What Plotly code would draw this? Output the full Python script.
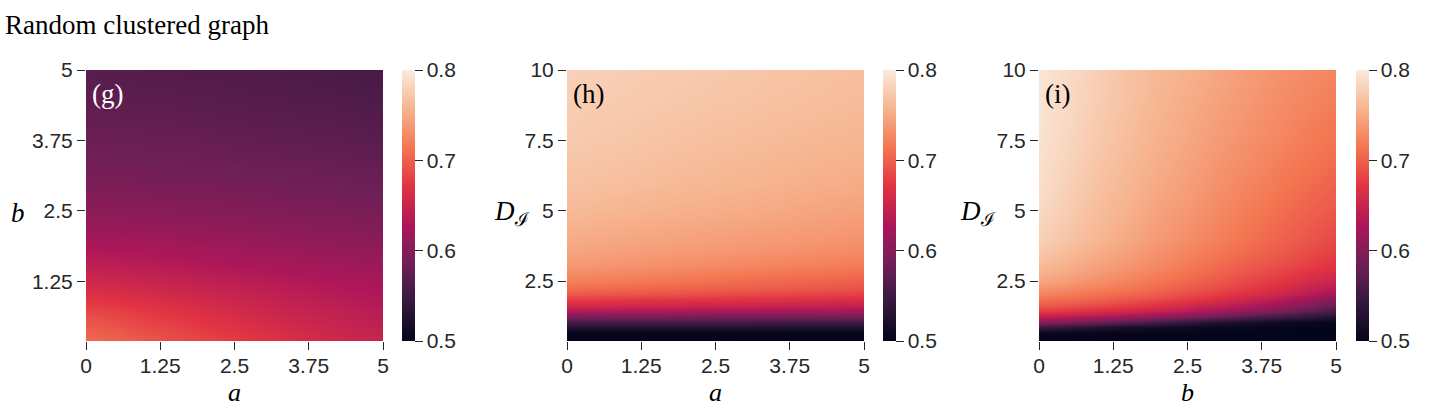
import plotly.graph_objects as go

W, H = 1450, 410

# ---------------- data ----------------
# panel (g): x = a, y = b
g_a = [0, 0.5, 1, 1.5, 2, 2.5, 3, 3.5, 4, 4.5, 5]
g_b = [0.25, 0.5, 0.75, 1.0, 1.25, 1.5, 2.0, 2.5, 3.0, 3.5, 4.0, 4.5, 5.0]
g_z = [
    [0.705, 0.700, 0.693, 0.687, 0.681, 0.675, 0.669, 0.663, 0.657, 0.652, 0.648],
    [0.695, 0.690, 0.684, 0.678, 0.672, 0.667, 0.661, 0.656, 0.651, 0.646, 0.642],
    [0.682, 0.678, 0.673, 0.668, 0.663, 0.658, 0.653, 0.648, 0.644, 0.640, 0.636],
    [0.668, 0.665, 0.661, 0.657, 0.653, 0.649, 0.645, 0.641, 0.637, 0.633, 0.630],
    [0.655, 0.653, 0.650, 0.647, 0.643, 0.640, 0.637, 0.633, 0.630, 0.627, 0.624],
    [0.643, 0.641, 0.639, 0.636, 0.633, 0.630, 0.627, 0.624, 0.621, 0.619, 0.616],
    [0.622, 0.621, 0.619, 0.617, 0.615, 0.613, 0.611, 0.609, 0.607, 0.605, 0.603],
    [0.605, 0.604, 0.603, 0.602, 0.600, 0.599, 0.597, 0.596, 0.594, 0.593, 0.591],
    [0.594, 0.593, 0.592, 0.591, 0.590, 0.589, 0.587, 0.586, 0.585, 0.583, 0.582],
    [0.586, 0.585, 0.584, 0.583, 0.582, 0.580, 0.579, 0.578, 0.577, 0.575, 0.574],
    [0.579, 0.578, 0.577, 0.576, 0.575, 0.573, 0.572, 0.571, 0.570, 0.568, 0.567],
    [0.573, 0.572, 0.571, 0.570, 0.569, 0.567, 0.566, 0.565, 0.564, 0.562, 0.561],
    [0.568, 0.567, 0.566, 0.565, 0.564, 0.563, 0.562, 0.560, 0.559, 0.557, 0.556],
]

# panel (h): x = a, y = D_I
h_a = [0, 1, 2, 3, 4, 5]
h_d = [0.45, 0.65, 0.85, 1.05, 1.25, 1.45, 1.65, 1.85, 2.05, 2.25, 2.5,
       3.0, 3.5, 4.0, 5.0, 6.0, 7.5, 9.0, 10.0]
h_z = [
    [0.500, 0.500, 0.500, 0.500, 0.500, 0.500],
    [0.503, 0.503, 0.503, 0.502, 0.502, 0.502],
    [0.527, 0.527, 0.526, 0.526, 0.525, 0.525],
    [0.557, 0.556, 0.556, 0.555, 0.554, 0.553],
    [0.598, 0.596, 0.595, 0.593, 0.592, 0.590],
    [0.633, 0.631, 0.629, 0.626, 0.624, 0.622],
    [0.660, 0.658, 0.655, 0.653, 0.650, 0.648],
    [0.679, 0.676, 0.673, 0.671, 0.668, 0.665],
    [0.696, 0.693, 0.690, 0.686, 0.683, 0.680],
    [0.710, 0.706, 0.702, 0.699, 0.695, 0.691],
    [0.721, 0.717, 0.713, 0.708, 0.704, 0.700],
    [0.737, 0.733, 0.729, 0.724, 0.720, 0.716],
    [0.746, 0.742, 0.738, 0.735, 0.731, 0.727],
    [0.752, 0.748, 0.745, 0.741, 0.738, 0.734],
    [0.762, 0.758, 0.754, 0.751, 0.747, 0.744],
    [0.768, 0.765, 0.761, 0.758, 0.754, 0.751],
    [0.774, 0.771, 0.767, 0.764, 0.761, 0.758],
    [0.778, 0.775, 0.772, 0.769, 0.766, 0.763],
    [0.780, 0.777, 0.774, 0.771, 0.768, 0.765],
]

# panel (i): x = b, y = D_I
i_b = [0, 0.5, 1, 1.5, 2, 2.5, 3, 3.5, 4, 4.5, 5]
i_d = [0.45, 0.65, 0.85, 1.05, 1.25, 1.45, 1.65, 1.85, 2.05, 2.25, 2.5,
       3.0, 3.5, 4.0, 5.0, 6.0, 7.5, 9.0, 10.0]
i_z = [
    [0.500, 0.500, 0.500, 0.500, 0.500, 0.500, 0.500, 0.500, 0.500, 0.500, 0.500],
    [0.505, 0.503, 0.502, 0.501, 0.500, 0.500, 0.500, 0.500, 0.500, 0.500, 0.500],
    [0.548, 0.538, 0.528, 0.520, 0.514, 0.510, 0.506, 0.504, 0.502, 0.501, 0.500],
    [0.605, 0.595, 0.583, 0.570, 0.556, 0.543, 0.530, 0.520, 0.512, 0.506, 0.503],
    [0.648, 0.642, 0.634, 0.625, 0.613, 0.600, 0.586, 0.572, 0.558, 0.544, 0.530],
    [0.677, 0.672, 0.665, 0.657, 0.647, 0.636, 0.623, 0.608, 0.592, 0.575, 0.557],
    [0.698, 0.693, 0.687, 0.679, 0.670, 0.659, 0.647, 0.634, 0.619, 0.600, 0.580],
    [0.712, 0.707, 0.701, 0.694, 0.686, 0.676, 0.665, 0.653, 0.639, 0.621, 0.600],
    [0.724, 0.719, 0.713, 0.706, 0.698, 0.688, 0.678, 0.667, 0.654, 0.639, 0.622],
    [0.735, 0.729, 0.722, 0.715, 0.706, 0.697, 0.687, 0.677, 0.665, 0.651, 0.637],
    [0.748, 0.740, 0.732, 0.723, 0.714, 0.705, 0.695, 0.685, 0.674, 0.662, 0.650],
    [0.762, 0.753, 0.744, 0.735, 0.726, 0.716, 0.707, 0.697, 0.688, 0.678, 0.668],
    [0.772, 0.762, 0.752, 0.743, 0.733, 0.724, 0.715, 0.706, 0.697, 0.687, 0.678],
    [0.779, 0.769, 0.759, 0.749, 0.739, 0.730, 0.721, 0.712, 0.703, 0.694, 0.685],
    [0.786, 0.775, 0.764, 0.755, 0.745, 0.737, 0.728, 0.719, 0.710, 0.702, 0.694],
    [0.790, 0.779, 0.768, 0.759, 0.750, 0.742, 0.733, 0.725, 0.717, 0.709, 0.702],
    [0.793, 0.783, 0.773, 0.764, 0.755, 0.748, 0.740, 0.733, 0.726, 0.719, 0.712],
    [0.795, 0.786, 0.776, 0.767, 0.759, 0.752, 0.745, 0.738, 0.731, 0.725, 0.720],
    [0.796, 0.787, 0.777, 0.768, 0.760, 0.755, 0.748, 0.741, 0.735, 0.729, 0.724],
]

ab_ticks = [0, 1.25, 2.5, 3.75, 5]
ab_ticktext = ["0", "1.25", "2.5", "3.75", "5"]
b_yticks = [1.25, 2.5, 3.75, 5]
b_yticktext = ["1.25", "2.5", "3.75", "5"]
d_ticks = [2.5, 5, 7.5, 10]
d_ticktext = ["2.5", "5", "7.5", "10"]
cb_ticks = [0.5, 0.6, 0.7, 0.8]
cb_ticktext = ["0.5", "0.6", "0.7", "0.8"]

title_text = "Random clustered graph"
panel_labels = ["(g)", "(h)", "(i)"]

# ---------------- style ----------------
rocket = [[0.0, "#03051A"], [0.143, "#35193E"], [0.286, "#701F57"],
          [0.429, "#AD1759"], [0.571, "#E13342"], [0.714, "#F37651"],
          [0.857, "#F6B48F"], [1.0, "#FAEBDD"]]
INK = "#262626"
SANS = "Liberation Sans, Arial, sans-serif"
SERIF = "Liberation Serif, Times New Roman, serif"

def px(x):
    return x / W

def py(y):
    return 1 - y / H

TOP, BOT = 70, 341
panels_x = [(86, 383), (567, 864), (1039, 1336)]
cbar_x = [402, 883, 1356]

fig = go.Figure()

def colorbar(xpix):
    return dict(
        x=px(xpix), xanchor="left", xpad=0,
        y=py(BOT), yanchor="bottom", ypad=0,
        len=(BOT - TOP) / H, lenmode="fraction",
        thickness=13, outlinewidth=0,
        tickmode="array", tickvals=cb_ticks, ticktext=cb_ticktext,
        ticks="outside", ticklen=8, tickwidth=1.3, tickcolor=INK,
        tickfont=dict(family=SANS, size=21, color=INK),
    )

fig.add_trace(go.Heatmap(x=g_a, y=g_b, z=g_z, zmin=0.5, zmax=0.8,
                         colorscale=rocket, zsmooth="best",
                         colorbar=colorbar(cbar_x[0]),
                         xaxis="x", yaxis="y"))
fig.add_trace(go.Heatmap(x=h_a, y=h_d, z=h_z, zmin=0.5, zmax=0.8,
                         colorscale=rocket, zsmooth="best",
                         colorbar=colorbar(cbar_x[1]),
                         xaxis="x2", yaxis="y2"))
fig.add_trace(go.Heatmap(x=i_b, y=i_d, z=i_z, zmin=0.5, zmax=0.8,
                         colorscale=rocket, zsmooth="best",
                         colorbar=colorbar(cbar_x[2]),
                         xaxis="x3", yaxis="y3"))

axis_common = dict(showgrid=False, zeroline=False, showline=False,
                   ticks="outside", ticklen=8, tickwidth=1.3, tickcolor=INK,
                   tickfont=dict(family=SANS, size=21, color=INK),
                   tickmode="array", automargin=False)

layout_axes = {}
yranges = [[0.19, 5], [0.37, 10], [0.37, 10]]
yt = [(b_yticks, b_yticktext), (d_ticks, d_ticktext), (d_ticks, d_ticktext)]
for k in range(3):
    sx = "" if k == 0 else str(k + 1)
    x0, x1 = panels_x[k]
    layout_axes["xaxis" + sx] = dict(
        axis_common, domain=[px(x0), px(x1)], range=[0, 5],
        tickvals=ab_ticks, ticktext=ab_ticktext,
        anchor="y" + sx, ticklabelstandoff=-2)
    layout_axes["yaxis" + sx] = dict(
        axis_common, domain=[py(BOT), py(TOP)], range=yranges[k],
        tickvals=yt[k][0], ticktext=yt[k][1],
        anchor="x" + sx, ticklabelstandoff=0)

annotations = []
# title
annotations.append(dict(text=title_text, x=px(3), y=py(25), xref="paper", yref="paper",
                        xanchor="left", yanchor="middle", showarrow=False,
                        font=dict(family=SERIF, size=27, color="#000000")))
# panel labels
for k, lab in enumerate(panel_labels):
    x0 = panels_x[k][0]
    annotations.append(dict(text=lab, x=px(x0 + 4), y=py(94), xref="paper", yref="paper",
                            xanchor="left", yanchor="middle", showarrow=False,
                            font=dict(family=SERIF, size=27,
                                      color="#ffffff" if k == 0 else "#000000")))
# x-axis titles
for k, t in enumerate(["<i>a</i>", "<i>a</i>", "<i>b</i>"]):
    x0, x1 = panels_x[k]
    annotations.append(dict(text=t, x=px((x0 + x1) / 2), y=py(392), xref="paper", yref="paper",
                            xanchor="center", yanchor="middle", showarrow=False,
                            font=dict(family=SERIF, size=26, color="#000000")))
# y-axis titles
ytitles = [("<i>b</i>", 18), ("<i>D</i><sub>ℐ</sub>", 512), ("<i>D</i><sub>ℐ</sub>", 978)]
for t, xc in ytitles:
    annotations.append(dict(text=t, x=px(xc), y=py(213), xref="paper", yref="paper",
                            xanchor="center", yanchor="middle", showarrow=False,
                            font=dict(family=SERIF, size=27, color="#000000")))

fig.update_layout(
    width=W, height=H,
    margin=dict(l=0, r=0, t=0, b=0, autoexpand=False),
    paper_bgcolor="#ffffff", plot_bgcolor="#ffffff",
    showlegend=False,
    annotations=annotations,
    **layout_axes,
)

fig.write_html("out.html", config={"displayModeBar": False},
               post_script="document.body.style.margin='0px';")
